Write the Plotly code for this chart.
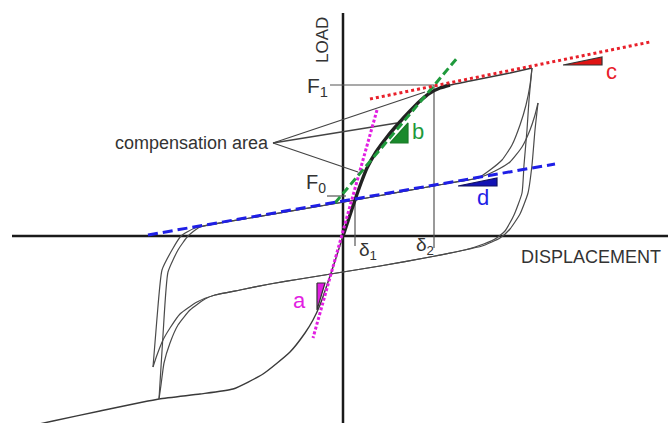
import plotly.graph_objects as go

# ---- hysteresis data (displacement, load) in arbitrary units ----
# envelope / first loading branch (lower-left end to the upper-right peak)
env_disp = [-313, -290, -243, -184, -143, -110, -80, -53, -38, -30, -23, -15, -7, 0,
            6, 12, 18, 24, 33, 44, 55, 67, 77, 87, 97, 107, 127, 147, 167, 189]
env_load = [-190, -185, -175, -163, -158, -153, -138, -116, -97, -84, -69, -46, -22, 0,
            18, 36, 53, 68, 84, 99, 112, 125, 135, 143, 148, 151, 155, 159, 163, 168]

# thick part of the initial loading curve (origin to F1)
ini_disp = [0, 6, 12, 18, 24, 33, 44, 55, 67, 77, 87, 97, 107]
ini_load = [0, 18, 36, 53, 68, 84, 99, 112, 125, 135, 143, 148, 151]

# cycle 1: unloading branch then reloading branch
c1_unl_disp = [189, 186, 184, 181, 179, 171, 162, 152, 135, 117, 87, 37, 0, -43, -73,
               -103, -128, -138, -153, -165, -173, -179, -182, -184]
c1_unl_load = [168, 136, 106, 71, 43, 21, 5, -3, -10, -15, -21, -30, -36, -43, -48,
               -54, -59, -63, -74, -89, -107, -127, -149, -163]
c1_rel_disp = [-184, -180, -175, -165, -155, -143, -93, 7, 107, 135, 147, 159, 169,
               177, 183, 187, 189]
c1_rel_load = [-163, -99, -36, -14, 0, 9, 18, 35, 53, 58, 66, 76, 91, 111, 131, 151, 168]

# cycle 2
c2_unl_disp = [195, 192, 189, 185, 177, 167, 157, 139, 117, 87, 37, 0, -43, -73, -103,
               -128, -146, -163, -173, -180, -186, -190]
c2_unl_load = [133, 106, 71, 43, 22, 7, -2, -10, -15, -21, -30, -36, -43, -48, -54,
               -59, -66, -78, -92, -104, -119, -131]
c2_rel_disp = [-190, -186, -181, -171, -162, -148, -93, 7, 107, 135, 152, 167, 179,
               187, 192, 195]
c2_rel_load = [-131, -82, -34, -14, 0, 8, 18, 35, 53, 58, 65, 74, 89, 106, 121, 133]

# tangent lines a, b, c, d (end points)
tan_a = ([34, -30], [126, -102])
tan_b = ([-8, 115], [33, 179])
tan_c = ([27, 307], [137, 194])
tan_d = ([-195, 212], [1, 72])

# slope triangles
tri_a = ([-26, -18, -26, -26], [-47, -47, -74, -47])
tri_b = ([47, 65, 65, 47], [93, 93, 113, 93])
tri_c = ([220, 259, 259, 220], [171, 171, 179, 171])
tri_d = ([115, 154, 154, 115], [50, 50, 58, 50])

# characteristic points
F1, F0 = 151, 40
delta1, delta2 = 12, 91
comp_from = (-70, 93)
comp_to = [(82, 144), (54, 113), (15, 64)]

GRAY = "#555555"
DARK = "#222222"
MAG, GRN, RED, BLU = "#e21ee2", "#1f9a3c", "#e8202a", "#1f1fe6"
FONT = "Liberation Sans, Arial, sans-serif"

fig = go.Figure()


def line(x, y, color, width, dash="solid", shape="linear"):
    fig.add_trace(go.Scatter(x=x, y=y, mode="lines",
                             line=dict(color=color, width=width, dash=dash, shape=shape,
                                       smoothing=0.5),
                             hoverinfo="skip", showlegend=False))


# axes
line([-331, 325], [0, 0], "#1a1a1a", 2.5)
line([0, 0], [223, -187], "#1a1a1a", 2.5)

# reference lines for F0/F1 and delta1/delta2
line([-13, delta2], [F1, F1], GRAY, 1.2)
line([delta2, delta2], [F1, -12], GRAY, 1.2)
line([-16, 3], [F0, F0], GRAY, 1.2)
line([delta1, delta1], [F0 - 2, -10], GRAY, 1.2)

# leader lines for the compensation area label
for tx, ty in comp_to:
    line([comp_from[0], tx], [comp_from[1], ty], "#444444", 1.3)

# hysteresis loops
line(env_disp, env_load, "#3a3a3a", 1.4, shape="spline")
for xs, ys in [(c1_unl_disp, c1_unl_load), (c1_rel_disp, c1_rel_load),
               (c2_unl_disp, c2_unl_load), (c2_rel_disp, c2_rel_load)]:
    line(xs, ys, "#4a4a4a", 1.2, shape="spline")
line(ini_disp, ini_load, DARK, 3.4, shape="spline")

# tangent lines
line(*tan_a, MAG, 3, dash="3px,2px")
line(*tan_b, GRN, 3, dash="8px,4px")
line(*tan_c, RED, 3, dash="dot")
line(*tan_d, BLU, 3, dash="10px,5px")

# slope triangles
for (tx, ty), fc, lc in [(tri_a, MAG, "#333333"), (tri_b, "#1a8a2c", "#1a7a28"),
                         (tri_c, "#e01414", "#333333"), (tri_d, "#1212b4", "#101060")]:
    fig.add_trace(go.Scatter(x=tx, y=ty, mode="lines", fill="toself", fillcolor=fc,
                             line=dict(color=lc, width=1.2), hoverinfo="skip",
                             showlegend=False))


def label(x, y, text, size, color="#333333", xanchor="center", angle=0):
    fig.add_annotation(x=x, y=y, text=text, showarrow=False, xanchor=xanchor,
                       yanchor="middle", textangle=angle,
                       font=dict(family=FONT, size=size, color=color))


label(-21, 196, "LOAD", 17, angle=-90)
label(248, -21, "DISPLACEMENT", 18)
label(-13, 149, "F<sub>1</sub>", 21, xanchor="right")
label(-15, 53, "F<sub>0</sub>", 20, xanchor="right")
label(-72, 93, "compensation area", 18, xanchor="right")
label(14, -15, "δ<sub>1</sub>", 19, xanchor="left")
label(93, -10, "δ<sub>2</sub>", 19, xanchor="right")
label(-44, -64, "a", 22, MAG)
label(75, 105, "b", 22, GRN)
label(268, 165, "c", 22, RED)
label(140, 39, "d", 22, BLU)

fig.update_layout(
    width=668, height=423,
    margin=dict(l=0, r=0, t=0, b=0),
    paper_bgcolor="white", plot_bgcolor="white",
    xaxis=dict(range=[-343, 325], visible=False, fixedrange=True),
    yaxis=dict(range=[-187, 236], visible=False, fixedrange=True),
    showlegend=False,
)

fig.write_html("out.html")
